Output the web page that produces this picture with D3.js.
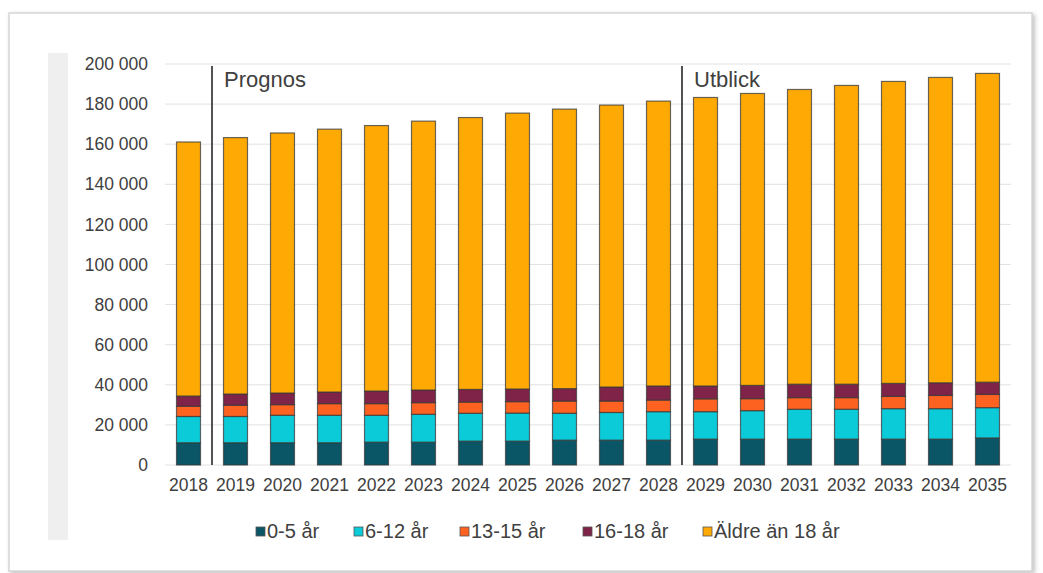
<!DOCTYPE html>
<html>
<head>
<meta charset="utf-8">
<script src="https://cdn.jsdelivr.net/npm/d3@7"></script>
<style>
  body { margin: 0; background: #fff; }
  svg { display: block; font-family: "Liberation Sans", Arial, sans-serif; }
</style>
</head>
<body>
<svg id="chart" width="1043" height="573"></svg>
<script>
const years = ['2018', '2019', '2020', '2021', '2022', '2023', '2024', '2025', '2026',
    '2027', '2028', '2029', '2030', '2031', '2032', '2033', '2034', '2035'];

const age0to5 = [11100, 11100, 11100, 11100, 11400, 11400, 11900, 11900, 12400,
    12400, 12400, 12900, 12900, 12900, 12900, 12900, 12900, 13500];
const age6to12 = [13100, 13100, 13700, 13700, 13400, 13900, 13900, 14000, 13400,
    13800, 14200, 13700, 14200, 14900, 14900, 15200, 15200, 15100];
const age13to15 = [5100, 5600, 5300, 5800, 5800, 5800, 5600, 5700, 6100,
    5700, 5800, 6400, 6000, 5800, 5800, 6100, 6600, 6600];
const age16to18 = [5100, 5600, 5800, 5800, 6300, 6300, 6300, 6300, 6200,
    7000, 7000, 6400, 6600, 6700, 6700, 6500, 6300, 6100];
const older = [126700, 127900, 129700, 131100, 132400, 134100, 135600, 137600, 139400,
    140600, 142100, 143900, 145600, 147000, 149000, 150600, 152300, 154000];

const seriesNames = ['0-5 år', '6-12 år', '13-15 år', '16-18 år', 'Äldre än 18 år'];
const seriesValues = [age0to5, age6to12, age13to15, age16to18, older];
const seriesColors = ['#0a5566', '#0ccbd8', '#fd6220', '#7f2349', '#ffa905'];

const yTicks = [0, 20000, 40000, 60000, 80000, 100000, 120000, 140000, 160000, 180000, 200000];
const markers = [{ year: '2019', label: 'Prognos' }, { year: '2029', label: 'Utblick' }];

const svg = d3.select('#chart');
const textColor = '#404040';

// frame and grey strip
svg.append('rect')
    .attr('x', 9).attr('y', 13)
    .attr('width', 1023).attr('height', 558)
    .attr('fill', '#fff')
    .attr('stroke', '#d6d6d6')
    .attr('stroke-width', 1.5)
    .style('filter', 'drop-shadow(2px 2px 2px rgba(0,0,0,0.25))');

svg.append('rect')
    .attr('x', 48).attr('y', 53)
    .attr('width', 20).attr('height', 487)
    .attr('fill', '#efefef');

const x = d3.scaleBand()
    .domain(years)
    .range([165, 1011])
    .paddingInner(0.49)
    .paddingOuter(0.245);

const y = d3.scaleLinear()
    .domain([0, 200000])
    .range([465, 64]);

const locale = d3.formatLocale({ decimal: ',', thousands: ' ', grouping: [3], currency: ['', ''] });

// grid
svg.append('g')
    .selectAll('line')
    .data(yTicks)
    .enter()
    .append('line')
    .attr('x1', 165).attr('x2', 1011)
    .attr('y1', d => y(d)).attr('y2', d => y(d))
    .attr('stroke', '#e2e2e2')
    .attr('stroke-width', 1);

// y axis
const yAxis = svg.append('g')
    .attr('transform', 'translate(165,0)')
    .call(d3.axisLeft(y).tickValues(yTicks).tickSize(0).tickPadding(17).tickFormat(locale.format(',')));
yAxis.select('.domain').remove();
yAxis.selectAll('text')
    .attr('fill', textColor)
    .style('font-size', '17.5px')
    .style('font-family', '"Liberation Sans", Arial, sans-serif');

// x axis
const xAxis = svg.append('g')
    .attr('transform', 'translate(0,465)')
    .call(d3.axisBottom(x).tickSize(0).tickPadding(14));
xAxis.select('.domain').remove();
xAxis.selectAll('text')
    .attr('fill', textColor)
    .style('font-size', '17.5px')
    .style('font-family', '"Liberation Sans", Arial, sans-serif');

// stacked bars
const rows = years.map((yr, i) => {
    const row = { year: yr };
    seriesNames.forEach((s, j) => { row[s] = seriesValues[j][i]; });
    return row;
});
const stacked = d3.stack().keys(seriesNames)(rows);

svg.append('g')
    .selectAll('g')
    .data(stacked)
    .enter()
    .append('g')
    .attr('fill', (d, i) => seriesColors[i])
    .selectAll('rect')
    .data(d => d)
    .enter()
    .append('rect')
    .attr('x', d => x(d.data.year))
    .attr('width', x.bandwidth())
    .attr('y', d => y(d[1]))
    .attr('height', d => y(d[0]) - y(d[1]))
    .attr('stroke', '#3a3a3a')
    .attr('stroke-opacity', 0.75)
    .attr('stroke-width', 1.2);

// prognos / utblick markers
const half = x.step() / 2;
const markerG = svg.append('g');
markerG.selectAll('line')
    .data(markers)
    .enter()
    .append('line')
    .attr('x1', d => x(d.year) + x.bandwidth() / 2 - half)
    .attr('x2', d => x(d.year) + x.bandwidth() / 2 - half)
    .attr('y1', 66).attr('y2', 465)
    .attr('stroke', '#404040')
    .attr('stroke-width', 1.8);
markerG.selectAll('text')
    .data(markers)
    .enter()
    .append('text')
    .attr('x', d => x(d.year) + x.bandwidth() / 2 - half + 12)
    .attr('y', 87)
    .attr('fill', textColor)
    .style('font-size', '22px')
    .text(d => d.label);

// legend
const legendX = [256, 354, 460, 583, 703];
const legend = svg.append('g')
    .selectAll('g')
    .data(seriesNames)
    .enter()
    .append('g')
    .attr('transform', (d, i) => 'translate(' + legendX[i] + ',0)');
legend.append('rect')
    .attr('x', 0).attr('y', 527)
    .attr('width', 9).attr('height', 9)
    .attr('fill', (d, i) => seriesColors[i])
    .attr('stroke', '#555')
    .attr('stroke-width', 0.8);
legend.append('text')
    .attr('x', 11)
    .attr('y', 538)
    .attr('fill', textColor)
    .style('font-size', '20px')
    .text(d => d);
</script>
</body>
</html>
